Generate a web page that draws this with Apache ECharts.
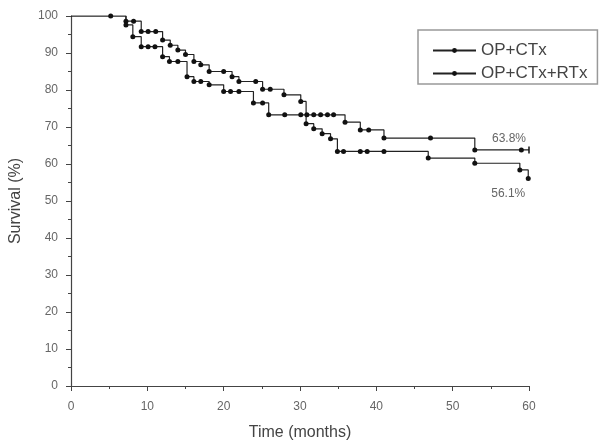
<!DOCTYPE html>
<html>
<head>
<meta charset="utf-8">
<script src="https://cdn.jsdelivr.net/npm/echarts@6/dist/echarts.min.js"></script>
<style>
  html, body { margin: 0; padding: 0; background: #fff; }
  #chart { width: 610px; height: 446px; }
</style>
</head>
<body>
<div id="chart"></div>
<script>
// Kaplan–Meier survival estimates (months, % surviving)
const groupNames = ['OP+CTx', 'OP+CTx+RTx'];

const timeA = [0, 5.2, 7.2, 8.2, 9.2, 10.1, 11.1, 12.0, 13.0, 14.0, 15.0, 16.1, 17.0, 18.1, 20.0, 21.1, 22.0, 24.2, 25.1, 26.1, 27.9, 30.1, 30.8, 31.8, 32.9, 34.0, 34.9, 35.7, 37.9, 38.8, 41.0, 46.8, 52.9, 58.8, 59.9];
const survA = [100, 100, 98.6, 98.6, 95.8, 95.8, 95.8, 93.5, 92.1, 90.8, 89.6, 87.7, 86.8, 85.0, 85.0, 83.6, 82.3, 82.3, 80.2, 80.2, 78.7, 76.9, 70.9, 69.5, 68.2, 66.8, 63.4, 63.4, 63.4, 63.4, 63.4, 61.6, 60.2, 58.4, 56.1];

const timeB = [0, 7.2, 8.1, 9.2, 10.1, 11.0, 12.0, 12.9, 14.0, 15.2, 16.1, 17.0, 18.1, 20.0, 20.9, 22.0, 23.9, 25.1, 25.9, 28.0, 30.1, 30.9, 31.8, 32.7, 33.6, 34.4, 35.9, 37.9, 39.0, 41.0, 47.1, 52.9, 59.0, 60.0];
const survB = [100, 97.6, 94.4, 91.7, 91.7, 91.7, 89.0, 87.7, 87.7, 83.6, 82.3, 82.3, 81.4, 79.6, 79.6, 79.6, 76.5, 76.5, 73.3, 73.3, 73.3, 73.3, 73.3, 73.3, 73.3, 73.3, 71.3, 69.2, 69.2, 67.0, 67.0, 63.8, 63.8, 63.8];

const xTicks = { min: 0, max: 60, interval: 10 };
const yTicks = { min: 0, max: 100, interval: 10 };

function buildData(times, surv, endLabel, endPos, endDistance, lastSymbol) {
  return times.map((t, i) => {
    const item = { value: [t, surv[i]] };
    if (i === 0) item.symbol = 'none';
    if (i === times.length - 1) {
      item.label = {
        show: true,
        formatter: endLabel,
        position: endPos,
        offset: [-20, 0],
        distance: endDistance,
        color: '#666',
        fontSize: 12,
        fontFamily: 'Liberation Sans, Arial, sans-serif'
      };
      if (lastSymbol) {
        item.symbol = lastSymbol.symbol;
        item.symbolSize = lastSymbol.size;
      }
    }
    return item;
  });
}

const font = 'Liberation Sans, Arial, sans-serif';
const chart = echarts.init(document.getElementById('chart'));

chart.setOption({
  animation: false,
  backgroundColor: '#fff',
  grid: { left: 70, right: 81, top: 16, bottom: 60 },
  legend: {
    orient: 'vertical',
    left: 418,
    top: 30,
    padding: [12, 10, 2, 14],
    itemGap: 6,
    itemWidth: 43,
    itemHeight: 6,
    borderColor: '#999',
    borderWidth: 1.5,
    textStyle: { fontSize: 17, color: '#444', fontFamily: font },
    data: groupNames
  },
  xAxis: {
    type: 'value',
    min: xTicks.min, max: xTicks.max, interval: xTicks.interval,
    name: 'Time (months)',
    nameLocation: 'middle',
    nameGap: 39,
    nameTextStyle: { fontSize: 16, color: '#444', fontFamily: font },
    axisLine: { show: true, lineStyle: { color: '#444', width: 1.2 } },
    axisTick: { show: true, length: 5, lineStyle: { color: '#444' } },
    minorTick: { show: true, splitNumber: 2, length: 3, lineStyle: { color: '#444' } },
    axisLabel: { margin: 15, fontSize: 12, color: '#666', fontFamily: font },
    splitLine: { show: false }
  },
  yAxis: {
    type: 'value',
    min: yTicks.min, max: yTicks.max, interval: yTicks.interval,
    name: 'Survival (%)',
    nameLocation: 'middle',
    nameGap: 47,
    nameTextStyle: { fontSize: 16, color: '#444', fontFamily: font },
    axisLine: { show: true, lineStyle: { color: '#444', width: 1.2 } },
    axisTick: { show: true, length: 5, lineStyle: { color: '#444' } },
    minorTick: { show: true, splitNumber: 2, length: 3, lineStyle: { color: '#444' } },
    axisLabel: { margin: 13, fontSize: 12, color: '#666', fontFamily: font },
    splitLine: { show: false }
  },
  series: [
    {
      name: groupNames[0],
      type: 'line',
      step: 'end',
      symbol: 'circle',
      symbolSize: 5,
      showAllSymbol: true,
      lineStyle: { color: '#222', width: 1.2 },
      itemStyle: { color: '#111' },
      data: buildData(timeA, survA, '56.1%', 'bottom', 7)
    },
    {
      name: groupNames[1],
      type: 'line',
      step: 'end',
      symbol: 'circle',
      symbolSize: 5,
      showAllSymbol: true,
      lineStyle: { color: '#222', width: 1.2 },
      itemStyle: { color: '#111' },
      data: buildData(timeB, survB, '63.8%', 'top', 2, { symbol: 'rect', size: [1.5, 7] })
    }
  ]
});
</script>
</body>
</html>
